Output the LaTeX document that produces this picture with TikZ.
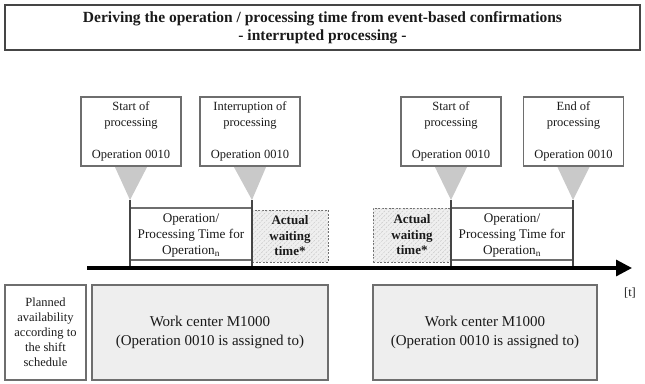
\documentclass[tikz,border=0pt]{standalone}
\usepackage{fontspec}
\setmainfont{Liberation Serif}
\usetikzlibrary{arrows.meta,patterns.meta,calc}

\definecolor{ink}{HTML}{1A1A1A}
\definecolor{frame}{HTML}{6E6E6E}
\definecolor{darkframe}{HTML}{454545}
\definecolor{pointer}{HTML}{C9C9C9}
\definecolor{slot}{HTML}{EEEEEE}
\definecolor{hatchbg}{HTML}{EFEFEF}
\definecolor{hatchline}{HTML}{C8C8C8}

\tikzset{
  every node/.style={text=ink, inner sep=0pt},
  titlebox/.style={draw=darkframe, line width=1.4pt, minimum width=635pt, minimum height=45pt,
    align=center, font=\fontsize{15.5}{18}\selectfont\bfseries},
  eventbox/.style={draw=frame, fill=white, line width=1.1pt, minimum width=100pt, minimum height=69pt,
    align=center, font=\fontsize{12.5}{16}\selectfont},
  pointertri/.style={fill=pointer},
  spanlabel/.style={align=center, font=\fontsize{13.2}{16}\selectfont},
  waitbox/.style={draw=frame, line width=0.9pt, dash pattern=on 2pt off 1.5pt,
    fill=hatchbg, postaction={pattern={Lines[angle=45,distance=3.2pt,line width=0.45pt]}, pattern color=hatchline},
    align=center, font=\fontsize{13}{15.5}\selectfont\bfseries},
  spanline/.style={draw=frame, line width=1.1pt},
  tickline/.style={draw=darkframe, line width=1.5pt},
  shiftbox/.style={draw=frame, line width=1.1pt, align=center},
  slotbox/.style={shiftbox, fill=slot, font=\fontsize{15}{19}\selectfont},
}

\begin{document}
\begin{tikzpicture}[x=1pt, y=-1pt]
\useasboundingbox (0,0) rectangle (645,383);

% heading
\node[titlebox] (title) at (322.5,27.5)
  {Deriving the operation / processing time from event-based confirmations\\- interrupted processing -};

% time marks on the axis
\coordinate (m1) at (130,200);
\coordinate (m2) at (252,200);
\coordinate (m3) at (451,200);
\coordinate (m4) at (573,200);

% confirmation events
\node[eventbox] (e1) at (131,131.5) {Start of\\processing\\[16pt]Operation 0010};
\node[eventbox] (e2) at (250,131.5) {Interruption of\\processing\\[16pt]Operation 0010};
\node[eventbox] (e3) at (451,131.5) {Start of\\processing\\[16pt]Operation 0010};
\node[eventbox] (e4) at (573.5,131.5) {End of\\processing\\[16pt]Operation 0010};

% pointers from the events to their time marks
\foreach \e/\m in {e1/m1,e2/m2,e3/m3,e4/m4}{
  \fill[pointertri] ($(\e.south)+(-16,0.6)$) -- ($(\e.south)+(16,0.6)$) -- (\m) -- cycle;
}

% waiting periods
\node[waitbox, minimum width=76pt, minimum height=52pt] (w1) at (290,236) {Actual\\waiting\\time*};
\node[waitbox, minimum width=78pt, minimum height=54pt] (w2) at (412,235) {Actual\\waiting\\time*};

% processing periods
\node[spanlabel] (p1) at (191,236) {Operation/\\Processing Time for\\Operation\textsubscript{n}};
\node[spanlabel] (p2) at (512,236) {Operation/\\Processing Time for\\Operation\textsubscript{n}};

\coordinate (axl) at (87,268);
\coordinate (axr) at (632,268);

\foreach \a/\b in {m1/m2,m3/m4}{
  \draw[spanline] ($(\a)+(0,8)$) -- ($(\b)+(0,8)$);
  \draw[spanline] ($(\a)+(0,60)$) -- ($(\b)+(0,60)$);
}
\foreach \m in {m1,m2,m3,m4}{
  \draw[tickline] (\m) -- ($(\m)+(0,66)$);
}

% time axis
\draw[line width=3.2pt, -{Triangle[length=16pt,width=16pt]}] (axl) -- (axr);
\node[font=\fontsize{12.5}{15}\selectfont] (t) at (630,293) {[t]};

% planned availability
\node[shiftbox, minimum width=81pt, minimum height=95pt, font=\fontsize{12.5}{15}\selectfont] (plan) at (45.5,332.5)
  {Planned\\availability\\according to\\the shift\\schedule};
\node[slotbox, minimum width=236pt, minimum height=95pt] (wc1) at (210,332.5)
  {Work center M1000\\(Operation 0010 is assigned to)};
\node[slotbox, minimum width=224pt, minimum height=95pt] (wc2) at (485,332.5)
  {Work center M1000\\(Operation 0010 is assigned to)};
\end{tikzpicture}
\end{document}
